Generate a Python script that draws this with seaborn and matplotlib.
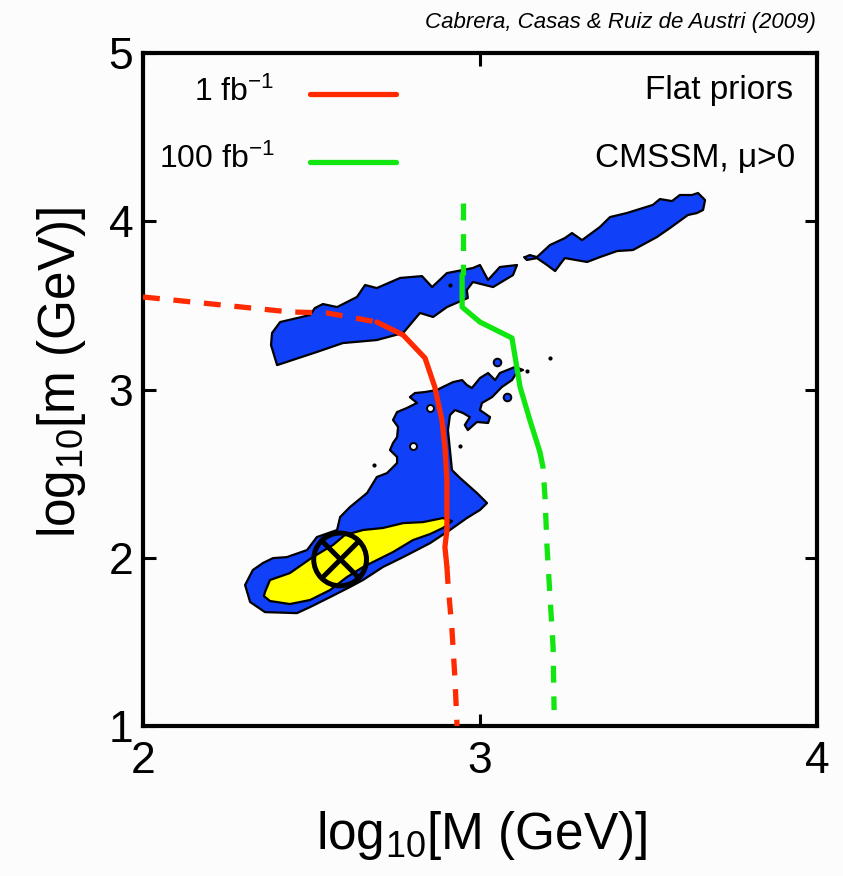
import matplotlib
matplotlib.use("Agg")
import matplotlib.pyplot as plt
import seaborn as sns

# ---------------------------------------------------------------
# Credible regions and reach curves
# (x = log10 M, y = log10 m)
# ---------------------------------------------------------------
band_west_x = [2.383, 2.407, 2.496, 2.510, 2.534, 2.576, 2.635, 2.659, 2.694, 2.763,
               2.828, 2.858, 2.902, 2.979, 3.000, 3.024, 3.059, 3.110, 3.098, 3.039,
               2.979, 2.961, 2.964, 2.902, 2.861, 2.822, 2.772, 2.694, 2.593, 2.516,
               2.398, 2.380]
band_west_y = [3.336, 3.401, 3.443, 3.484, 3.508, 3.490, 3.550, 3.621, 3.603, 3.663,
               3.674, 3.609, 3.692, 3.722, 3.740, 3.651, 3.728, 3.740, 3.680, 3.609,
               3.639, 3.591, 3.544, 3.490, 3.431, 3.455, 3.336, 3.294, 3.276, 3.223,
               3.145, 3.264]

band_east_x = [3.134, 3.148, 3.169, 3.208, 3.252, 3.273, 3.303, 3.356, 3.386, 3.436,
               3.513, 3.534, 3.570, 3.593, 3.629, 3.647, 3.668, 3.662, 3.644, 3.617,
               3.564, 3.525, 3.454, 3.407, 3.356, 3.318, 3.252, 3.243, 3.223, 3.199,
               3.169, 3.139, 3.131]
band_east_y = [3.787, 3.799, 3.787, 3.859, 3.900, 3.930, 3.888, 3.966, 4.025, 4.049,
               4.097, 4.132, 4.120, 4.156, 4.156, 4.168, 4.126, 4.067, 4.049, 4.037,
               3.960, 3.906, 3.829, 3.823, 3.787, 3.758, 3.781, 3.758, 3.704, 3.740,
               3.781, 3.770, 3.787]

blob_x = [2.303, 2.326, 2.356, 2.386, 2.427, 2.487, 2.516, 2.576, 2.585, 2.614,
          2.665, 2.694, 2.724, 2.754, 2.754, 2.733, 2.742, 2.754, 2.757, 2.742,
          2.754, 2.783, 2.813, 2.792, 2.807, 2.837, 2.872, 2.890, 2.920, 2.947,
          2.961, 2.976, 3.000, 3.024, 3.045, 3.059, 3.104, 3.128, 3.110, 3.095,
          3.065, 3.036, 3.006, 3.000, 3.030, 3.024, 2.991, 2.964, 2.955, 2.970,
          2.950, 2.926, 2.911, 2.905, 2.911, 2.917, 2.941, 2.991, 3.021, 3.000,
          2.961, 2.911, 2.852, 2.772, 2.712, 2.653, 2.614, 2.555, 2.496, 2.457,
          2.362, 2.318]
blob_y = [1.838, 1.927, 1.969, 1.998, 2.004, 2.046, 2.123, 2.165, 2.242, 2.301,
          2.385, 2.480, 2.503, 2.563, 2.599, 2.640, 2.682, 2.717, 2.777, 2.819,
          2.866, 2.890, 2.920, 2.955, 2.979, 2.985, 2.997, 3.015, 3.044, 3.056,
          3.027, 3.009, 3.068, 3.098, 3.056, 3.098, 3.134, 3.116, 3.104, 3.056,
          3.015, 2.955, 2.920, 2.878, 2.836, 2.801, 2.807, 2.759, 2.789, 2.836,
          2.860, 2.878, 2.848, 2.759, 2.640, 2.521, 2.474, 2.385, 2.325, 2.284,
          2.236, 2.165, 2.087, 2.004, 1.945, 1.868, 1.826, 1.766, 1.707, 1.671,
          1.677, 1.737]

core_x = [2.362, 2.377, 2.436, 2.504, 2.564, 2.599, 2.653, 2.712, 2.772, 2.831,
          2.890, 2.917, 2.890, 2.852, 2.801, 2.742, 2.694, 2.653, 2.605, 2.555,
          2.496, 2.436, 2.377, 2.359]
core_y = [1.796, 1.868, 1.909, 2.004, 2.076, 2.135, 2.165, 2.177, 2.206, 2.212,
          2.236, 2.218, 2.177, 2.141, 2.105, 2.034, 1.986, 1.945, 1.885, 1.808,
          1.749, 1.725, 1.743, 1.772]

# small isolated islands / holes
island_x = [3.050, 3.080]
island_y = [3.163, 2.955]
hole_x = [2.853, 2.800]
hole_y = [2.890, 2.664]
speck_x = [3.208, 2.911, 2.685, 2.941, 3.140]
speck_y = [3.187, 3.621, 2.551, 2.664, 3.110]

# 1 fb^-1 reach (red)
red_dash_hi_x = [2.000, 2.436, 2.546, 2.694]
red_dash_hi_y = [3.550, 3.461, 3.455, 3.401]
red_solid_x = [2.694, 2.772, 2.837, 2.866, 2.887, 2.896, 2.902, 2.902, 2.896, 2.902]
red_solid_y = [3.401, 3.324, 3.187, 3.015, 2.819, 2.658, 2.462, 2.165, 2.064, 1.945]
red_dash_lo_x = [2.902, 2.905, 2.917, 2.926, 2.932]
red_dash_lo_y = [1.945, 1.850, 1.571, 1.273, 1.000]

# 100 fb^-1 reach (green)
green_dash_hi_x = [2.950, 2.950]
green_dash_hi_y = [4.108, 3.681]
green_solid_x = [2.947, 2.947, 3.000, 3.095, 3.119, 3.148, 3.178]
green_solid_y = [3.681, 3.490, 3.401, 3.306, 3.015, 2.819, 2.628]
green_dash_lo_x = [3.178, 3.187, 3.193, 3.199, 3.208, 3.217, 3.220]
green_dash_lo_y = [2.628, 2.539, 2.361, 2.064, 1.767, 1.470, 1.095]

# best fit point
best_x = [2.585]
best_y = [1.99]

BG = "#fcfcfc"
BLUE = "#1040f8"
YELLOW = "#ffff00"
RED = "#ff2a00"
GREEN = "#11e611"

sns.set_theme(style="white")
plt.rcParams["font.family"] = ["Liberation Sans", "DejaVu Sans"]
plt.rcParams["mathtext.fontset"] = "custom"
plt.rcParams["mathtext.rm"] = "Liberation Sans"
plt.rcParams["mathtext.it"] = "Liberation Sans:italic"
plt.rcParams["mathtext.default"] = "regular"
plt.rcParams["text.color"] = "black"
plt.rcParams["axes.labelcolor"] = "black"

fig = plt.figure(figsize=(8.43, 8.76), dpi=100, facecolor=BG)
ax = fig.add_axes([0.1696, 0.1712, 0.7995, 0.7683], facecolor=BG)

# ── regions ───────────────────────────
for xs, ys in [(band_west_x, band_west_y), (band_east_x, band_east_y), (blob_x, blob_y)]:
    ax.fill(xs, ys, facecolor=BLUE, edgecolor="black", linewidth=1.6, joinstyle="round", zorder=2)
ax.fill(core_x, core_y, facecolor=YELLOW, edgecolor="black", linewidth=1.6, joinstyle="round", zorder=3)
ax.scatter(island_x, island_y, s=30, color=BLUE, edgecolors="black", linewidths=1.4, zorder=3)
ax.scatter(hole_x, hole_y, s=25, color=BG, edgecolors="black", linewidths=1.4, zorder=3)
ax.scatter(speck_x, speck_y, s=9, color="black", linewidths=0, zorder=3)

# ── reach curves ──────────────────────
dash = (0, (3.2, 2.6))
curves = [
    (red_dash_hi_x, red_dash_hi_y, RED, dash),
    (red_solid_x, red_solid_y, RED, "-"),
    (red_dash_lo_x, red_dash_lo_y, RED, dash),
    (green_dash_hi_x, green_dash_hi_y, GREEN, dash),
    (green_solid_x, green_solid_y, GREEN, "-"),
    (green_dash_lo_x, green_dash_lo_y, GREEN, dash),
]
for xs, ys, c, ls in curves:
    sns.lineplot(x=xs, y=ys, sort=False, estimator=None, color=c, linewidth=3.8,
                 linestyle=ls, ax=ax, zorder=4)

# best-fit marker
ax.scatter(best_x, best_y, s=38 ** 2, facecolors="none", edgecolors="black", linewidths=3.6, zorder=5)
ax.scatter(best_x, best_y, s=27 ** 2, marker="x", color="black", linewidths=3.6, zorder=5)

# ── legend / annotations ──────────────
ax.plot([0.248, 0.375], [0.939, 0.939], color=RED, lw=3.8, transform=ax.transAxes, solid_capstyle="round")
ax.plot([0.248, 0.375], [0.838, 0.838], color=GREEN, lw=3.8, transform=ax.transAxes, solid_capstyle="round")
ax.text(0.195, 0.929, "1 fb$^{-1}$", transform=ax.transAxes, ha="right", va="baseline", fontsize=23)
ax.text(0.195, 0.829, "100 fb$^{-1}$", transform=ax.transAxes, ha="right", va="baseline", fontsize=23)
ax.text(0.965, 0.931, "Flat priors", transform=ax.transAxes, ha="right", va="baseline", fontsize=24)
ax.text(0.967, 0.831, "CMSSM, \u03bc>0", transform=ax.transAxes, ha="right", va="baseline", fontsize=24)
fig.text(0.968, 0.968, "Cabrera, Casas & Ruiz de Austri (2009)", ha="right", va="baseline",
         fontsize=16, style="italic")

# ── axes ──────────────────────────────
ax.set_xlim(2, 4)
ax.set_ylim(1, 5)
ax.set_xticks([2, 3, 4])
ax.set_yticks([1, 2, 3, 4, 5])
ax.tick_params(direction="in", length=9, width=2.2, labelsize=32, top=True, right=True,
               bottom=True, left=True, color="black", labelcolor="black")
ax.tick_params(axis="x", pad=11)
ax.tick_params(axis="y", pad=7)
for sp in ax.spines.values():
    sp.set_linewidth(3)
    sp.set_color("black")
ax.set_xlabel("log$_{10}$[M (GeV)]", fontsize=37, color="black")
ax.set_ylabel("log$_{10}$[m (GeV)]", fontsize=37, color="black")
ax.xaxis.set_label_coords(0.503, -0.123)
ax.yaxis.set_label_coords(-0.081, 0.526)

fig.savefig("out.png", dpi=100, facecolor=BG)
